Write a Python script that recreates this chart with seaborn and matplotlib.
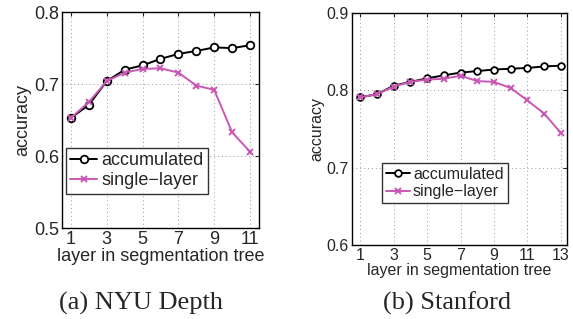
import numpy as np
import pandas as pd
import matplotlib
matplotlib.use("Agg")
import matplotlib.pyplot as plt
import seaborn as sns

# NYU Depth
nyu_layers = list(range(1, 12))
nyu_accumulated = [0.653, 0.671, 0.704, 0.720, 0.726, 0.735, 0.742, 0.746, 0.751, 0.750, 0.754]
nyu_single = [0.653, 0.675, 0.704, 0.716, 0.721, 0.722, 0.716, 0.698, 0.692, 0.633, 0.606]

# Stanford
stf_layers = list(range(1, 14))
stf_accumulated = [0.791, 0.795, 0.806, 0.811, 0.8155, 0.8195, 0.823, 0.825, 0.827, 0.828, 0.829, 0.831, 0.832]
stf_single = [0.791, 0.795, 0.805, 0.811, 0.814, 0.815, 0.819, 0.812, 0.811, 0.803, 0.787, 0.770, 0.745]

series_names = ["accumulated", "single\u2212layer"]
colors = {"accumulated": "black", "single\u2212layer": "#c958b4"}

sns.set_style("white")
plt.rcParams['font.family'] = ['Liberation Sans', 'DejaVu Sans']


def long_df(layers, acc, single):
    return pd.DataFrame({
        "layer": layers + layers,
        "accuracy": acc + single,
        "method": [series_names[0]] * len(layers) + [series_names[1]] * len(layers),
    })


def draw_panel(ax, df, xlim, ylim, yticks, xticks, fs, legend_loc):
    for name in series_names:
        sub = df[df["method"] == name]
        if name == "accumulated":
            sns.lineplot(data=sub, x="layer", y="accuracy", ax=ax, color=colors[name],
                         marker="o", markersize=fs * 0.42, markerfacecolor="white",
                         markeredgecolor="black", markeredgewidth=1.3, linewidth=1.4,
                         label=name, zorder=3)
        else:
            sns.lineplot(data=sub, x="layer", y="accuracy", ax=ax, color=colors[name],
                         marker="x", markersize=fs * 0.36, markeredgewidth=1.4,
                         markeredgecolor=colors[name], linewidth=1.4,
                         label=name, zorder=4)
    ax.set_xlim(*xlim)
    ax.set_ylim(*ylim)
    ax.set_xticks(xticks)
    ax.set_yticks(yticks)
    ax.set_yticklabels([f"{v:.1f}" for v in yticks])
    ax.grid(True, linestyle=(0, (1, 3)), color="#999999", linewidth=0.7)
    ax.tick_params(direction="in", length=3, top=True, right=True, labelsize=fs, pad=2)
    for s in ax.spines.values():
        s.set_color("black")
        s.set_linewidth(1.0)
    ax.set_xlabel("layer in segmentation tree", fontsize=fs, labelpad=0)
    ax.set_ylabel("accuracy", fontsize=fs, labelpad=2)
    leg = ax.legend(loc=legend_loc, fontsize=fs, frameon=True, fancybox=False,
                    handlelength=1.5, handletextpad=0.2, borderpad=0.25,
                    labelspacing=0.15, borderaxespad=0.3)
    leg.get_frame().set_edgecolor("black")
    leg.get_frame().set_linewidth(1.0)


fig = plt.figure(figsize=(5.73, 3.19), dpi=100)
ax1 = fig.add_axes([0.108, 0.285, 0.344, 0.677])
ax2 = fig.add_axes([0.614, 0.232, 0.375, 0.727])

draw_panel(ax1, long_df(nyu_layers, nyu_accumulated, nyu_single),
           (0.5, 11.5), (0.5, 0.8), [0.5, 0.6, 0.7, 0.8], [1, 3, 5, 7, 9, 11], 13,
           (0.02, 0.16))
draw_panel(ax2, long_df(stf_layers, stf_accumulated, stf_single),
           (0.5, 13.35), (0.6, 0.9), [0.6, 0.7, 0.8, 0.9], [1, 3, 5, 7, 9, 11, 13], 11.5,
           (0.14, 0.18))

fig.text(0.246, 0.03, "(a) NYU Depth", family=["Liberation Serif", "DejaVu Serif"],
         fontsize=19, ha="center", va="baseline")
fig.text(0.78, 0.03, "(b) Stanford", family=["Liberation Serif", "DejaVu Serif"],
         fontsize=19, ha="center", va="baseline")

fig.savefig("out.png", dpi=100)
